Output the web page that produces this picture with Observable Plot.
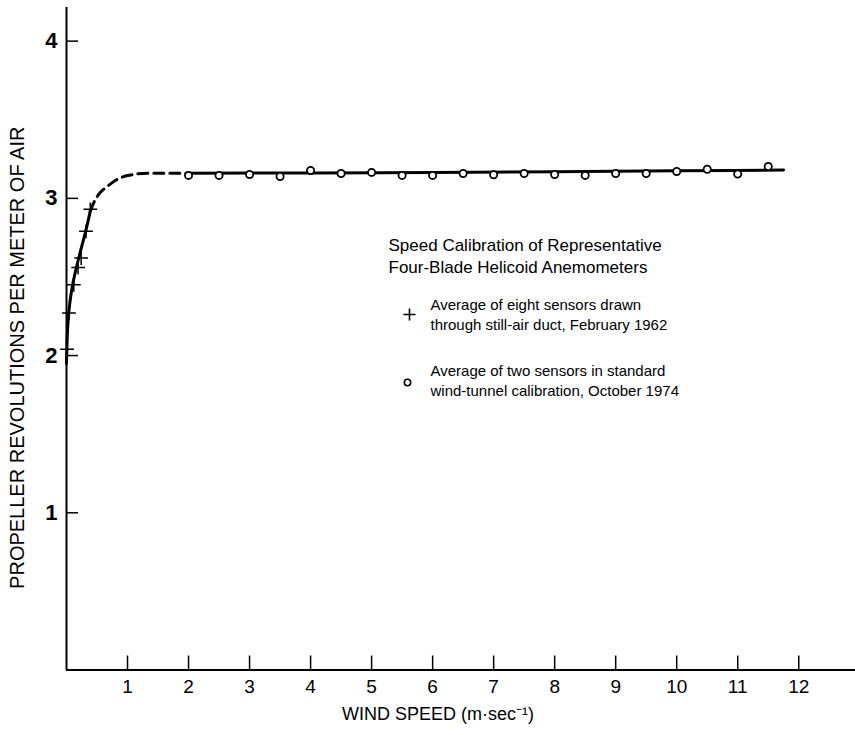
<!DOCTYPE html>
<html>
<head>
<meta charset="utf-8">
<script src="https://cdn.jsdelivr.net/npm/d3@7"></script>
<script src="https://cdn.jsdelivr.net/npm/@observablehq/plot@0.6"></script>
<style>
  html, body { margin: 0; padding: 0; background: #fff; }
  #chart svg { display: block; }
</style>
</head>
<body>
<div id="chart"></div>
<script>
// ---- data ----
// crosses: eight sensors drawn through still-air duct (Feb 1962)
const ductX = [0.01, 0.04, 0.12, 0.19, 0.24, 0.32, 0.39];
const ductY = [2.04, 2.27, 2.45, 2.56, 2.62, 2.79, 2.93];
// circles: two sensors, wind-tunnel calibration (Oct 1974)
const tunnelX = [2, 2.5, 3, 3.5, 4, 4.5, 5, 5.5, 6, 6.5, 7, 7.5, 8, 8.5, 9, 9.5, 10, 10.5, 11, 11.5];
const tunnelY = [3.146, 3.146, 3.152, 3.139, 3.177, 3.158, 3.165, 3.146, 3.146, 3.158, 3.150, 3.158, 3.152, 3.146, 3.158, 3.158, 3.171, 3.185, 3.155, 3.203];
// fitted curve: solid low-speed part, dashed transition, solid plateau
const lowX = [0, 0.01, 0.03, 0.06, 0.10, 0.15, 0.20, 0.26, 0.32, 0.39];
const lowY = [1.95, 2.10, 2.24, 2.35, 2.45, 2.54, 2.62, 2.71, 2.80, 2.92];
const dashX = [0.39, 0.47, 0.56, 0.65, 0.75, 0.88, 1.0, 1.15, 1.35, 1.6, 2.0];
const dashY = [2.92, 2.99, 3.04, 3.07, 3.10, 3.13, 3.145, 3.155, 3.16, 3.16, 3.16];
const fitX = [2.0, 4, 6, 8, 10, 11.75];
const fitY = [3.16, 3.162, 3.165, 3.17, 3.175, 3.18];
// ticks and texts
const xTicks = [1, 2, 3, 4, 5, 6, 7, 8, 9, 10, 11, 12];
const yTicks = [1, 2, 3, 4];
const xTitle = "WIND SPEED (m\u00B7sec\u207B\u00B9)";
const yTitle = "PROPELLER REVOLUTIONS PER METER OF AIR";
const legendTitle = ["Speed Calibration of Representative", "Four-Blade Helicoid Anemometers"];
const legendDuct = ["Average of eight sensors drawn", "through still-air duct, February 1962"];
const legendTunnel = ["Average of two sensors in standard", "wind-tunnel calibration, October 1974"];

const zip = (xs, ys) => xs.map((x, i) => ({x, y: ys[i]}));
const duct = zip(ductX, ductY);
const tunnel = zip(tunnelX, tunnelY);
const low = zip(lowX, lowY);
const dash = zip(dashX, dashY);
const fit = zip(fitX, fitY);

const W = 855, H = 735;
const mL = 66, mR = 0, mT = 7, mB = 65.5;
const plotW = W - mL - mR, plotH = H - mT - mB;
const font = "'Liberation Sans', Arial, sans-serif";

const chart = Plot.plot({
  width: W,
  height: H,
  marginLeft: mL,
  marginRight: mR,
  marginTop: mT,
  marginBottom: mB,
  style: {fontFamily: font, color: "#000", background: "#fff"},
  x: {domain: [0, 12.93], axis: null},
  y: {domain: [0, 4.214], axis: null},
  marks: [
    // axis lines
    Plot.ruleX([0], {stroke: "#000", strokeWidth: 2}),
    Plot.ruleY([0], {stroke: "#000", strokeWidth: 2}),
    // inward ticks
    Plot.tickY(yTicks, {y: d => d, stroke: "#000", strokeWidth: 1.5, insetRight: plotW - 12}),
    Plot.tickX(xTicks, {x: d => d, stroke: "#000", strokeWidth: 1.5, insetTop: plotH - 14}),
    // tick labels
    Plot.axisY(yTicks, {tickSize: 0, tickPadding: 9, fontSize: 22, fontWeight: "bold", label: null, tickFormat: d => d}),
    Plot.axisX(xTicks, {tickSize: 0, tickPadding: 9, fontSize: 19, label: null, tickFormat: d => d}),
    // axis titles
    Plot.text([yTitle], {frameAnchor: "left", text: d => d, rotate: -90, textAnchor: "middle", dx: -49, dy: 19, fontSize: 20, fill: "#000"}),
    Plot.text([xTitle], {frameAnchor: "bottom", text: d => d, textAnchor: "middle", dx: -23, dy: 50, fontSize: 18, fill: "#000"}),
    // fitted curve
    Plot.line(low, {x: "x", y: "y", stroke: "#000", strokeWidth: 3, curve: "monotone-x"}),
    Plot.line(dash, {x: "x", y: "y", stroke: "#000", strokeWidth: 3, strokeDasharray: "10,6", curve: "monotone-x"}),
    Plot.line(fit, {x: "x", y: "y", stroke: "#000", strokeWidth: 3, curve: "monotone-x"}),
    // observations
    Plot.dot(duct, {x: "x", y: "y", symbol: "plus", r: 4.5, stroke: "#000", strokeWidth: 1.5}),
    Plot.dot(tunnel, {x: "x", y: "y", symbol: "circle", r: 3.6, stroke: "#000", strokeWidth: 1.8, fill: "#fff"}),
    // legend
    Plot.text([legendTitle.join("\n")], {frameAnchor: "top-left", text: d => d, dx: 388 - mL, dy: 254 - mT, textAnchor: "start", lineAnchor: "middle", lineHeight: 1.3, fontSize: 17, fill: "#000"}),
    Plot.text([legendDuct.join("\n")], {frameAnchor: "top-left", text: d => d, dx: 430 - mL, dy: 313 - mT, textAnchor: "start", lineAnchor: "middle", lineHeight: 1.33, fontSize: 15, fill: "#000"}),
    Plot.text([legendTunnel.join("\n")], {frameAnchor: "top-left", text: d => d, dx: 430 - mL, dy: 379 - mT, textAnchor: "start", lineAnchor: "middle", lineHeight: 1.33, fontSize: 15, fill: "#000"}),
    Plot.dot([0], {frameAnchor: "top-left", dx: 409 - mL, dy: 314 - mT, symbol: "plus", r: 4, stroke: "#000", strokeWidth: 1.6}),
    Plot.dot([0], {frameAnchor: "top-left", dx: 407 - mL, dy: 382 - mT, symbol: "circle", r: 3.2, stroke: "#000", strokeWidth: 1.6, fill: "#fff"})
  ]
});
document.getElementById("chart").appendChild(chart);
</script>
</body>
</html>
